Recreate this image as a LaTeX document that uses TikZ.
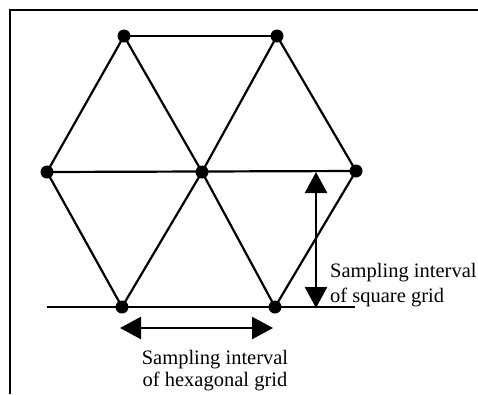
\documentclass[tikz,border=0pt]{standalone}
\usepackage{fontspec}
\setmainfont{Liberation Serif}
\usetikzlibrary{arrows.meta}
\begin{document}
\begin{tikzpicture}[x=1pt,y=-1pt,
  dot/.style={circle,fill=black,inner sep=0pt,minimum size=13pt},
  edge/.style={line width=2.2pt},
  frameline/.style={line width=2.2pt},
  dimarrow/.style={line width=2.4pt,{Triangle[length=21pt,width=22pt]}-{Triangle[length=21pt,width=22pt]}},
  lbl/.style={font=\fontsize{20.5}{22}\selectfont,inner sep=0pt}]
\useasboundingbox (0,0) rectangle (478,394);
\draw[frameline] (10,394) -- (10,10) -- (478,10);
% vertices
\node[dot] (tl) at (124,36) {};
\node[dot] (tr) at (277,36) {};
\node[dot] (ml) at (47,172) {};
\node[dot] (mc) at (202,172) {};
\node[dot] (mr) at (356,171) {};
\node[dot] (bl) at (122,307) {};
\node[dot] (br) at (275,307) {};
% edges
\draw[edge] (tl.center) -- (tr.center);
\draw[edge] (tl.center) -- (ml.center);
\draw[edge] (tl.center) -- (mc.center);
\draw[edge] (tr.center) -- (mc.center);
\draw[edge] (tr.center) -- (mr.center);
\draw[edge] (ml.center) -- (mr.center);
\draw[edge] (ml.center) -- (bl.center);
\draw[edge] (mc.center) -- (bl.center);
\draw[edge] (mc.center) -- (br.center);
\draw[edge] (mr.center) -- (br.center);
\coordinate (baseL) at (47,307);
\coordinate (baseR) at (355,307);
\draw[edge] (baseL) -- (baseR);
% dimension arrows
\coordinate (vt) at (316,172);
\coordinate (vb) at (316,308);
\draw[dimarrow] (vt) -- (vb);
\coordinate (hl) at (120,328);
\coordinate (hr) at (273,328);
\draw[dimarrow] (hl) -- (hr);
% labels
\node[lbl,anchor=base west,align=left,font=\fontsize{20.5}{25}\selectfont] (sq) at (330,302) {Sampling interval\\of square grid};
\node[lbl,anchor=base,align=center] (hx) at (215,386) {Sampling interval\\of hexagonal grid};
\end{tikzpicture}
\end{document}
